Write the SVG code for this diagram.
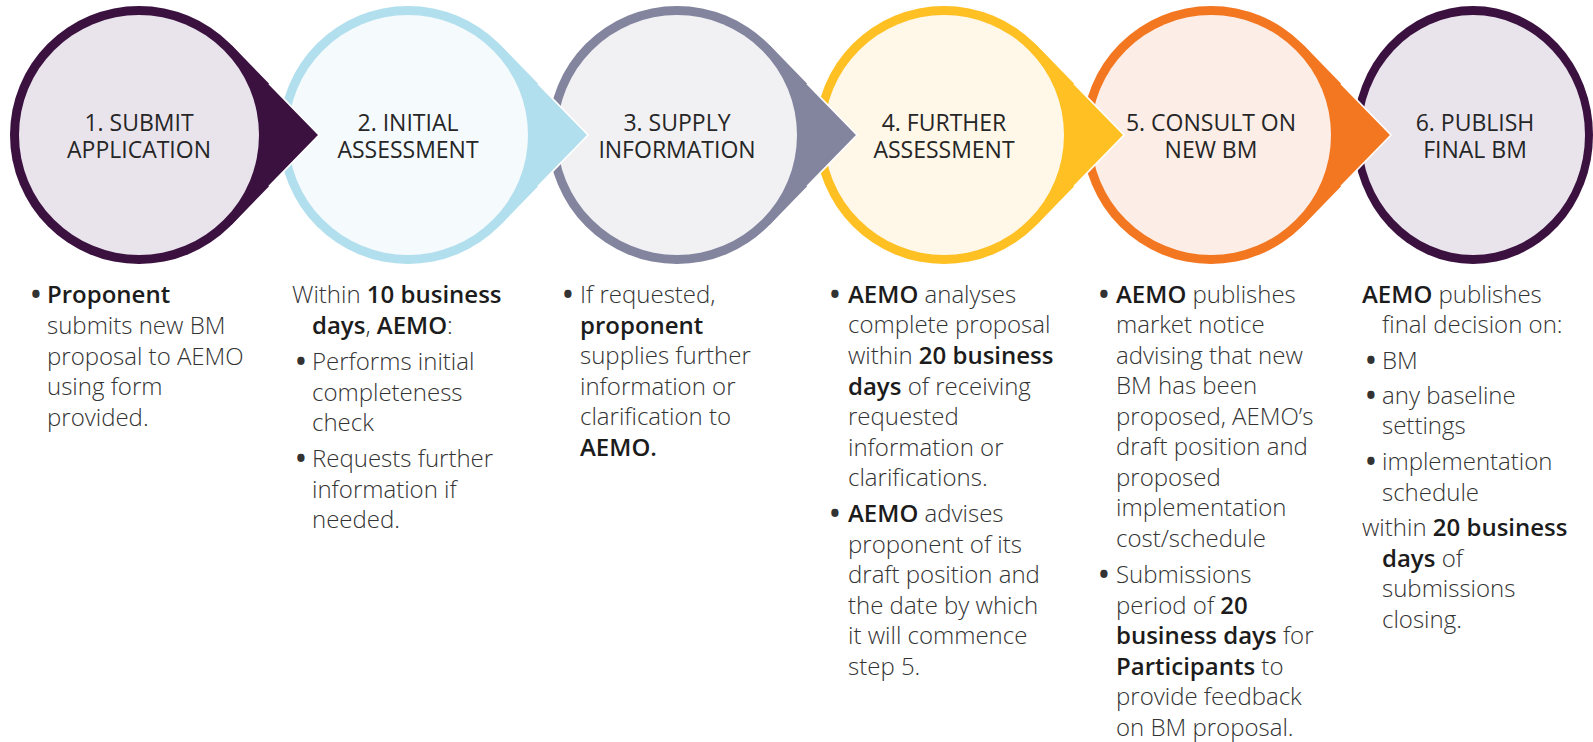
<svg xmlns="http://www.w3.org/2000/svg" width="1593" height="742" viewBox="0 0 1593 742">
<style>
.t{font-family:"Open Sans","Noto Sans","DejaVu Sans",sans-serif;font-size:23px;fill:#262626;text-anchor:middle}
.x{font-family:"Open Sans","Noto Sans","DejaVu Sans",sans-serif;font-size:24px;fill:#333333;font-weight:300}
.d{font-family:"Open Sans","Noto Sans","DejaVu Sans",sans-serif;font-size:26px;fill:#333333;font-weight:700}
.b{font-weight:600;fill:#1c1c1c}
.edge{fill:none;stroke:#ffffff;stroke-width:1.6;stroke-linejoin:miter}
</style>
<rect width="1593" height="742" fill="#ffffff"/>
<g id="step1">
<circle cx="139" cy="135" r="129" fill="#3B1140"/>
<circle cx="139" cy="135" r="120" fill="#E9E4EC"/>
<text class="t"><tspan x="139" y="131">1. SUBMIT</tspan><tspan x="139" y="158">APPLICATION</tspan></text>
<text class="d" x="31" y="304">•</text>
<text class="x"><tspan x="47" y="303" class="b">Proponent</tspan><tspan x="47" y="334">submits new BM</tspan><tspan x="47" y="365">proposal to AEMO</tspan><tspan x="47" y="395">using form</tspan><tspan x="47" y="426">provided.</tspan></text>
</g>
<g id="step2">
<circle cx="408" cy="135" r="129" fill="#B2DFEE"/>
<circle cx="408" cy="135" r="120" fill="#F5FAFD"/>
<text class="t"><tspan x="408" y="131">2. INITIAL</tspan><tspan x="408" y="158">ASSESSMENT</tspan></text>
<text class="d"><tspan x="296" y="371">•</tspan><tspan x="296" y="468">•</tspan></text>
<text class="x"><tspan x="292" y="303">Within </tspan><tspan class="b">10 business</tspan><tspan x="312" y="334" class="b">days</tspan><tspan>, </tspan><tspan class="b">AEMO</tspan><tspan>:</tspan><tspan x="312" y="370">Performs initial</tspan><tspan x="312" y="401">completeness</tspan><tspan x="312" y="431">check</tspan><tspan x="312" y="467">Requests further</tspan><tspan x="312" y="498">information if</tspan><tspan x="312" y="528">needed.</tspan></text>
</g>
<g id="step3">
<circle cx="677" cy="135" r="129" fill="#83849E"/>
<circle cx="677" cy="135" r="120" fill="#F1F1F4"/>
<text class="t"><tspan x="677" y="131">3. SUPPLY</tspan><tspan x="677" y="158">INFORMATION</tspan></text>
<text class="d" x="563" y="304">•</text>
<text class="x"><tspan x="580" y="303">If requested,</tspan><tspan x="580" y="334" class="b">proponent</tspan><tspan x="580" y="364">supplies further</tspan><tspan x="580" y="395">information or</tspan><tspan x="580" y="425">clarification to</tspan><tspan x="580" y="456" class="b">AEMO.</tspan></text>
</g>
<g id="step4">
<circle cx="944" cy="135" r="129" fill="#FEC023"/>
<circle cx="944" cy="135" r="120" fill="#FFF7E8"/>
<text class="t"><tspan x="944" y="131">4. FURTHER</tspan><tspan x="944" y="158">ASSESSMENT</tspan></text>
<text class="d"><tspan x="830" y="304">•</tspan><tspan x="830" y="523">•</tspan></text>
<text class="x"><tspan x="848" y="303" class="b">AEMO</tspan><tspan> analyses</tspan><tspan x="848" y="333">complete proposal</tspan><tspan x="848" y="364">within </tspan><tspan class="b">20 business</tspan><tspan x="848" y="395" class="b">days</tspan><tspan> of receiving</tspan><tspan x="848" y="425">requested</tspan><tspan x="848" y="456">information or</tspan><tspan x="848" y="486">clarifications.</tspan><tspan x="848" y="522" class="b">AEMO</tspan><tspan> advises</tspan><tspan x="848" y="553">proponent of its</tspan><tspan x="848" y="583">draft position and</tspan><tspan x="848" y="614">the date by which</tspan><tspan x="848" y="644">it will commence</tspan><tspan x="848" y="675">step 5.</tspan></text>
</g>
<g id="step5">
<circle cx="1211" cy="135" r="129" fill="#F37721"/>
<circle cx="1211" cy="135" r="120" fill="#FCEEE7"/>
<text class="t"><tspan x="1211" y="131">5. CONSULT ON</tspan><tspan x="1211" y="158">NEW BM</tspan></text>
<text class="d"><tspan x="1099" y="304">•</tspan><tspan x="1099" y="584">•</tspan></text>
<text class="x"><tspan x="1116" y="303" class="b">AEMO</tspan><tspan> publishes</tspan><tspan x="1116" y="333">market notice</tspan><tspan x="1116" y="364">advising that new</tspan><tspan x="1116" y="394">BM has been</tspan><tspan x="1116" y="425">proposed, AEMO’s</tspan><tspan x="1116" y="455">draft position and</tspan><tspan x="1116" y="486">proposed</tspan><tspan x="1116" y="516">implementation</tspan><tspan x="1116" y="547">cost/schedule</tspan><tspan x="1116" y="583">Submissions</tspan><tspan x="1116" y="614">period of </tspan><tspan class="b">20</tspan><tspan x="1116" y="644" class="b">business days</tspan><tspan> for</tspan><tspan x="1116" y="675" class="b">Participants</tspan><tspan> to</tspan><tspan x="1116" y="705">provide feedback</tspan><tspan x="1116" y="736">on BM proposal.</tspan></text>
</g>
<g id="step6">
<ellipse cx="1473" cy="135" rx="120" ry="129" fill="#3B1140"/>
<ellipse cx="1473" cy="135" rx="112" ry="120" fill="#E9E4EC"/>
<text class="t"><tspan x="1475" y="131">6. PUBLISH</tspan><tspan x="1475" y="158">FINAL BM</tspan></text>
<text class="d"><tspan x="1366" y="370">•</tspan><tspan x="1366" y="405">•</tspan><tspan x="1366" y="471">•</tspan></text>
<text class="x"><tspan x="1362" y="303" class="b">AEMO</tspan><tspan> publishes</tspan><tspan x="1382" y="333">final decision on:</tspan><tspan x="1382" y="369">BM</tspan><tspan x="1382" y="404">any baseline</tspan><tspan x="1382" y="434">settings</tspan><tspan x="1382" y="470">implementation</tspan><tspan x="1382" y="501">schedule</tspan><tspan x="1362" y="536">within </tspan><tspan class="b">20 business</tspan><tspan x="1382" y="567" class="b">days</tspan><tspan> of</tspan><tspan x="1382" y="597">submissions</tspan><tspan x="1382" y="628">closing.</tspan></text>
</g>
<g id="connectors">
<path d="M231.5,45.1 L319,135 L231.5,224.9 L228.5,221.8 A124,124 0 0,0 228.5,48.2 Z" fill="#3B1140"/>
<polyline class="edge" points="269,83.6 319,135 269,186.4"/>
<path d="M500.5,45.1 L588,135 L500.5,224.9 L497.5,221.8 A124,124 0 0,0 497.5,48.2 Z" fill="#B2DFEE"/>
<polyline class="edge" points="538,83.6 588,135 538,186.4"/>
<path d="M769.5,45.1 L857,135 L769.5,224.9 L766.5,221.8 A124,124 0 0,0 766.5,48.2 Z" fill="#83849E"/>
<polyline class="edge" points="807,83.6 857,135 807,186.4"/>
<path d="M1036.5,45.1 L1124,135 L1036.5,224.9 L1033.5,221.8 A124,124 0 0,0 1033.5,48.2 Z" fill="#FEC023"/>
<polyline class="edge" points="1074,83.6 1124,135 1074,186.4"/>
<path d="M1303.5,45.1 L1391,135 L1303.5,224.9 L1300.5,221.8 A124,124 0 0,0 1300.5,48.2 Z" fill="#F37721"/>
<polyline class="edge" points="1341,83.6 1391,135 1341,186.4"/>
</g>
</svg>
